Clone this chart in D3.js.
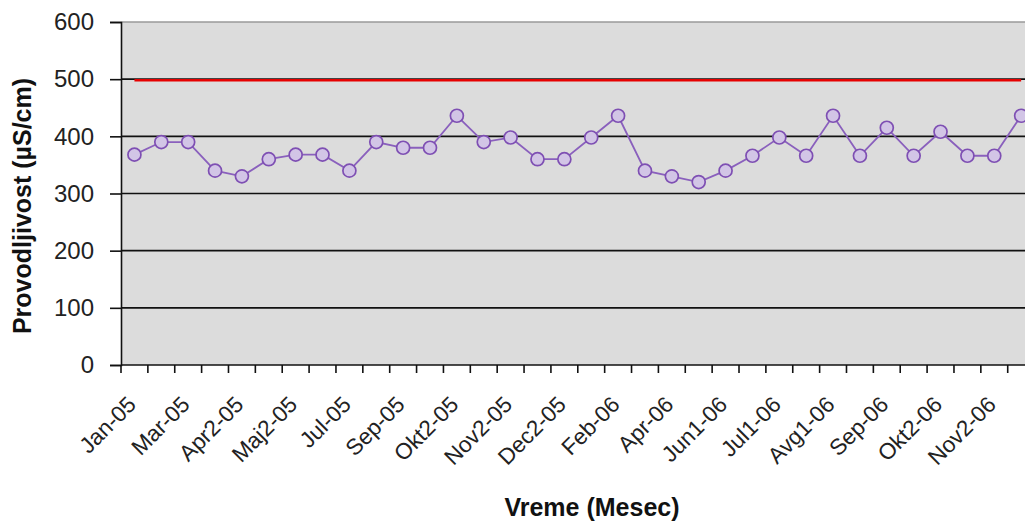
<!DOCTYPE html>
<html>
<head>
<meta charset="utf-8">
<script src="https://cdn.jsdelivr.net/npm/d3@7/dist/d3.min.js"></script>
<style>
  html, body { margin: 0; padding: 0; background: #ffffff; }
  svg { display: block; }
</style>
</head>
<body>
<svg id="chart" width="1025" height="522"></svg>
<script>
const categories = [
  "Jan-05","Feb-05","Mar-05","Apr1-05","Apr2-05","Maj1-05","Maj2-05","Jun-05",
  "Jul-05","Avg-05","Sep-05","Okt1-05","Okt2-05","Nov1-05","Nov2-05","Dec1-05",
  "Dec2-05","Jan-06","Feb-06","Mar-06","Apr-06","Maj-06","Jun1-06","Jun2-06",
  "Jul1-06","Jul2-06","Avg1-06","Avg2-06","Sep-06","Okt1-06","Okt2-06","Nov1-06",
  "Nov2-06","Dec-06"
];
const conductivity = [
  368, 390, 390, 340, 330, 360, 368, 368,
  340, 390, 380, 380, 436, 390, 398, 360,
  360, 398, 436, 340, 330, 320, 340, 366,
  398, 366, 436, 366, 415, 366, 408, 366,
  366, 436
];
const limitValue = 500;
const limitSeries = categories.map(() => limitValue);
const yTicks = [0, 100, 200, 300, 400, 500, 600];
const yTitle = "Provodljivost (µS/cm)";
const xTitle = "Vreme (Mesec)";

(function () {
const svg = d3.select("#chart");
const pLeft = 121, pTop = 22, pBottom = 365, band = 26.87;
const pRight = pLeft + band * categories.length;

const x = d3.scaleBand().domain(categories).range([pLeft, pRight]).paddingInner(0).paddingOuter(0);
const y = d3.scaleLinear().domain([0, 600]).range([pBottom, pTop]);
const cx = d => x(d) + x.bandwidth() / 2;

svg.append("rect")
  .attr("x", pLeft).attr("y", pTop)
  .attr("width", pRight - pLeft).attr("height", pBottom - pTop)
  .attr("fill", "#dcdcdc");

svg.append("line")
  .attr("x1", pLeft).attr("x2", pRight)
  .attr("y1", y(600)).attr("y2", y(600))
  .attr("stroke", "#9a9a9a").attr("stroke-width", 1.5);

svg.append("g").selectAll("line")
  .data(yTicks.filter(t => t > 0 && t < 600))
  .join("line")
  .attr("x1", pLeft).attr("x2", pRight)
  .attr("y1", d => y(d)).attr("y2", d => y(d))
  .attr("stroke", "#111").attr("stroke-width", 1.6);

const yAxis = d3.axisLeft(y).tickValues(yTicks).tickSize(11).tickPadding(16);
const gy = svg.append("g").attr("transform", `translate(${pLeft},0)`).call(yAxis);
gy.select(".domain").attr("stroke", "#111").attr("stroke-width", 1.6);
gy.selectAll(".tick line").attr("stroke", "#111").attr("stroke-width", 1.6);
gy.selectAll(".tick text")
  .attr("font-family", "Liberation Sans, Arial, sans-serif")
  .attr("font-size", 24).attr("fill", "#222");

svg.append("line")
  .attr("x1", pLeft).attr("x2", pRight)
  .attr("y1", pBottom).attr("y2", pBottom)
  .attr("stroke", "#111").attr("stroke-width", 1.6);

const bounds = categories.map(d => x(d)).concat([pRight]);
svg.append("g").selectAll("line")
  .data(bounds)
  .join("line")
  .attr("x1", d => d).attr("x2", d => d)
  .attr("y1", pBottom).attr("y2", pBottom + 8)
  .attr("stroke", "#111").attr("stroke-width", 1.6);

svg.append("g").selectAll("text")
  .data(categories.filter((d, i) => i % 2 === 0))
  .join("text")
  .attr("transform", d => `translate(${cx(d) + 3},${406}) rotate(-45)`)
  .attr("text-anchor", "end")
  .attr("font-family", "Liberation Sans, Arial, sans-serif")
  .attr("font-size", 22.5).attr("fill", "#222")
  .text(d => d);

const line = d3.line().x((d, i) => cx(categories[i])).y(d => y(d));
svg.append("path")
  .datum(limitSeries)
  .attr("d", line)
  .attr("transform", "translate(0,1)")
  .attr("fill", "none").attr("stroke", "#e60000").attr("stroke-width", 2.5);

svg.append("path")
  .datum(conductivity)
  .attr("d", line)
  .attr("fill", "none").attr("stroke", "#8a60bd").attr("stroke-width", 1.8);

svg.append("g").selectAll("circle")
  .data(conductivity)
  .join("circle")
  .attr("cx", (d, i) => cx(categories[i]))
  .attr("cy", d => y(d))
  .attr("r", 6.5)
  .attr("fill", "#d2c5e6")
  .attr("stroke", "#7e4fb3").attr("stroke-width", 1.7);

svg.append("text")
  .attr("transform", `translate(31,206) rotate(-90)`)
  .attr("text-anchor", "middle")
  .attr("font-family", "Liberation Sans, Arial, sans-serif")
  .attr("font-weight", "bold").attr("font-size", 25).attr("fill", "#111")
  .text(yTitle);

svg.append("text")
  .attr("x", 592).attr("y", 516)
  .attr("text-anchor", "middle")
  .attr("font-family", "Liberation Sans, Arial, sans-serif")
  .attr("font-weight", "bold").attr("font-size", 25).attr("fill", "#111")
  .text(xTitle);
})();
</script>
</body>
</html>
